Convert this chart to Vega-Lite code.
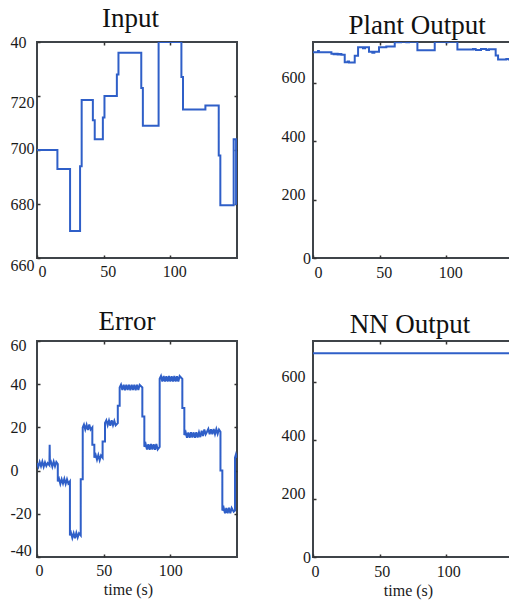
{
  "$schema": "https://vega.github.io/schema/vega-lite/v6.json",
  "padding": {"left": 9, "top": 4, "right": 0, "bottom": 0},
  "background": "white",
  "config": {
    "font": "Liberation Serif",
    "view": {"stroke": "#3f4449", "strokeWidth": 2},
    "axis": {
      "labelFont": "Liberation Serif",
      "labelFontSize": 16,
      "labelColor": "#1a1a1a",
      "labelFlush": false,
      "labelOverlap": false,
      "domain": false,
      "grid": false,
      "tickColor": "#333",
      "tickWidth": 1.5,
      "tickSize": -3,
      "titleFont": "Liberation Serif",
      "titleFontSize": 16,
      "titleFontWeight": "normal",
      "titleColor": "#1a1a1a"
    },
    "title": {"font": "Liberation Serif", "fontSize": 27, "fontWeight": "normal", "color": "#111", "baseline": "alphabetic", "offset": 1, "anchor": "middle"}
  },
  "datasets": {
    "input": [
      {"t": 0, "v": 700}, {"t": 15.3, "v": 693}, {"t": 24.8, "v": 670}, {"t": 32.3, "v": 694}, {"t": 33.5, "v": 718.5},
      {"t": 41.9, "v": 711}, {"t": 43.3, "v": 704}, {"t": 49.4, "v": 712}, {"t": 50.6, "v": 720}, {"t": 59.9, "v": 728},
      {"t": 61.1, "v": 736}, {"t": 78.2, "v": 723}, {"t": 79.4, "v": 709}, {"t": 91.2, "v": 740}, {"t": 108.3, "v": 727},
      {"t": 109.5, "v": 715}, {"t": 126.3, "v": 716.5}, {"t": 136.3, "v": 698}, {"t": 137.5, "v": 679.5}, {"t": 147.5, "v": 704},
      {"t": 149.3, "v": 680}, {"t": 150, "v": 680}
    ],
    "plant": [
      {"t": 0, "v": 705}, {"t": 3.8, "v": 709}, {"t": 4.4, "v": 705}, {"t": 13.8, "v": 700}, {"t": 15.5, "v": 698},
      {"t": 17, "v": 700}, {"t": 18.5, "v": 697}, {"t": 20, "v": 699}, {"t": 21.3, "v": 696}, {"t": 23.8, "v": 671},
      {"t": 26, "v": 673}, {"t": 27, "v": 670}, {"t": 31.3, "v": 693}, {"t": 33.8, "v": 722}, {"t": 37.5, "v": 719},
      {"t": 39, "v": 722}, {"t": 42, "v": 707}, {"t": 44.5, "v": 703}, {"t": 46, "v": 707}, {"t": 49.5, "v": 722},
      {"t": 55, "v": 725}, {"t": 61.3, "v": 739}, {"t": 66, "v": 741}, {"t": 70, "v": 739}, {"t": 72, "v": 741},
      {"t": 78.3, "v": 712}, {"t": 91.3, "v": 741}, {"t": 100, "v": 739}, {"t": 101, "v": 741}, {"t": 108.3, "v": 714},
      {"t": 120, "v": 716}, {"t": 122, "v": 713}, {"t": 126, "v": 716}, {"t": 130, "v": 713}, {"t": 132, "v": 715},
      {"t": 137, "v": 694}, {"t": 138.8, "v": 680}, {"t": 145, "v": 682}, {"t": 147, "v": 680}, {"t": 150, "v": 680}
    ],
    "error": [
      {"t": 0, "v": 3.5}, {"t": 1, "v": 1.8}, {"t": 2, "v": 4}, {"t": 3, "v": 2}, {"t": 4, "v": 4.2}, {"t": 5, "v": 1.8},
      {"t": 6, "v": 3.8}, {"t": 7, "v": 2.2}, {"t": 8, "v": 3.5}, {"t": 9.3, "v": 2.5}, {"t": 9.5, "v": 12}, {"t": 9.7, "v": 3},
      {"t": 10.5, "v": 4}, {"t": 11.5, "v": 1.8}, {"t": 12.5, "v": 4.2}, {"t": 13.5, "v": 2}, {"t": 14.5, "v": 4}, {"t": 15.6, "v": 3},
      {"t": 15.6, "v": -5}, {"t": 16.5, "v": -3.8}, {"t": 17.5, "v": -6.2}, {"t": 18.5, "v": -4}, {"t": 19.5, "v": -6},
      {"t": 20.5, "v": -3.8}, {"t": 21.5, "v": -6.2}, {"t": 22.5, "v": -4}, {"t": 23.5, "v": -6}, {"t": 24.7, "v": -5},
      {"t": 24.7, "v": -30}, {"t": 25.5, "v": -28.8}, {"t": 26.5, "v": -31.2}, {"t": 27.5, "v": -29}, {"t": 28.5, "v": -31.3},
      {"t": 29.5, "v": -28.8}, {"t": 30.5, "v": -31}, {"t": 31.5, "v": -29}, {"t": 32.8, "v": -30}, {"t": 32.8, "v": -4},
      {"t": 34.3, "v": -4}, {"t": 34.3, "v": 20}, {"t": 35.2, "v": 21.3}, {"t": 36.2, "v": 19}, {"t": 37.2, "v": 21.2},
      {"t": 38.2, "v": 18.8}, {"t": 39.2, "v": 21.3}, {"t": 40.2, "v": 19}, {"t": 41.5, "v": 20}, {"t": 41.5, "v": 12},
      {"t": 43, "v": 12}, {"t": 43, "v": 6}, {"t": 44, "v": 7.3}, {"t": 45, "v": 5}, {"t": 46, "v": 7.2}, {"t": 47, "v": 4.8},
      {"t": 48, "v": 7}, {"t": 49.2, "v": 6}, {"t": 49.2, "v": 13.5}, {"t": 51, "v": 13.5}, {"t": 51, "v": 22},
      {"t": 52, "v": 23.3}, {"t": 53, "v": 21}, {"t": 54, "v": 23.2}, {"t": 55, "v": 20.8}, {"t": 56, "v": 23.3},
      {"t": 57, "v": 21}, {"t": 58, "v": 23}, {"t": 59, "v": 21}, {"t": 60.6, "v": 22}, {"t": 60.6, "v": 30},
      {"t": 62, "v": 30}, {"t": 62, "v": 38.5}, {"t": 63, "v": 39.8}, {"t": 64, "v": 37.3}, {"t": 65, "v": 39.8},
      {"t": 66, "v": 37.2}, {"t": 67, "v": 39.7}, {"t": 68, "v": 37.3}, {"t": 69, "v": 39.8}, {"t": 70, "v": 37.2},
      {"t": 71, "v": 39.8}, {"t": 72, "v": 37.3}, {"t": 73, "v": 39.7}, {"t": 74, "v": 37.2}, {"t": 75, "v": 39.8},
      {"t": 76, "v": 37.3}, {"t": 77, "v": 39.7}, {"t": 79, "v": 38.5}, {"t": 79, "v": 25}, {"t": 80.5, "v": 25},
      {"t": 80.5, "v": 11}, {"t": 81.5, "v": 12.3}, {"t": 82.5, "v": 9.8}, {"t": 83.5, "v": 12.2}, {"t": 84.5, "v": 9.7},
      {"t": 85.5, "v": 12.3}, {"t": 86.5, "v": 9.8}, {"t": 87.5, "v": 12.2}, {"t": 88.5, "v": 9.7}, {"t": 89.5, "v": 12.3},
      {"t": 90.5, "v": 9.8}, {"t": 92, "v": 11}, {"t": 92, "v": 42.5}, {"t": 93, "v": 43.8}, {"t": 94, "v": 41.2},
      {"t": 95, "v": 43.8}, {"t": 96, "v": 41.3}, {"t": 97, "v": 43.7}, {"t": 98, "v": 41.2}, {"t": 99, "v": 43.8},
      {"t": 100, "v": 41.3}, {"t": 101, "v": 43.7}, {"t": 102, "v": 41.2}, {"t": 103, "v": 43.8}, {"t": 104, "v": 41.3},
      {"t": 105, "v": 43.7}, {"t": 106, "v": 41.2}, {"t": 107, "v": 43.8}, {"t": 109, "v": 42.5}, {"t": 109, "v": 29},
      {"t": 110.5, "v": 29}, {"t": 110.5, "v": 16.5}, {"t": 111.5, "v": 17.8}, {"t": 112.5, "v": 15.2}, {"t": 113.5, "v": 17.7},
      {"t": 114.5, "v": 15.2}, {"t": 115.5, "v": 17.8}, {"t": 116.5, "v": 15.3}, {"t": 117.5, "v": 17.7}, {"t": 118.5, "v": 15.2},
      {"t": 119.5, "v": 17.8}, {"t": 120.5, "v": 15.3}, {"t": 121.5, "v": 17.7}, {"t": 122.5, "v": 15.5}, {"t": 123.5, "v": 18.5},
      {"t": 124.5, "v": 16}, {"t": 125.5, "v": 19}, {"t": 126.5, "v": 16.8}, {"t": 127.5, "v": 18}, {"t": 128.5, "v": 19.3},
      {"t": 129.5, "v": 16.8}, {"t": 130.5, "v": 19.2}, {"t": 131.5, "v": 16.8}, {"t": 132.5, "v": 19.3}, {"t": 133.5, "v": 16.9},
      {"t": 134.5, "v": 19.2}, {"t": 135.5, "v": 17}, {"t": 136.5, "v": 19}, {"t": 137.6, "v": 18}, {"t": 137.6, "v": 0},
      {"t": 139, "v": 0}, {"t": 139, "v": -18.5}, {"t": 140, "v": -17.2}, {"t": 141, "v": -19.8}, {"t": 142, "v": -17.3},
      {"t": 143, "v": -19.7}, {"t": 144, "v": -17.2}, {"t": 145, "v": -19.8}, {"t": 146, "v": -17.3}, {"t": 147.5, "v": -19},
      {"t": 148.5, "v": -18.5}, {"t": 148.5, "v": 6}, {"t": 149.2, "v": 7.5}, {"t": 150, "v": 6}
    ],
    "nn": [{"t": 0, "v": 698}, {"t": 150, "v": 698}]
  },
  "bounds": "flush",
  "columns": 2,
  "spacing": {"row": 83, "column": 76},
  "concat": [
    {
      "width": 200, "height": 216,
      "title": {"text": "Input", "dx": -6.5},
      "data": {"name": "input"},
      "layer": [
        {
          "mark": {"type": "line", "interpolate": "step-after", "color": "#2f5fc8", "strokeWidth": 2, "clip": true},
          "encoding": {
            "x": {"field": "t", "type": "quantitative", "scale": {"domain": [0, 150], "nice": false, "zero": false},
              "axis": {"orient": "bottom", "values": [0, 50, 100], "title": null, "labelPadding": 8.5,
                "labelOffset": {"condition": {"test": "datum.value == 0", "value": 5}, "value": 4}}},
            "y": {"field": "v", "type": "quantitative", "scale": {"domain": [660, 740], "nice": false, "zero": false},
              "axis": {"orient": "left", "values": [660, 680, 700, 720, 740], "title": null, "labelAlign": "left", "labelPadding": 30,
                "labelExpr": "datum.value == 740 ? '40' : datum.label",
                "labelOffset": {"condition": [{"test": "datum.value == 660", "value": 7}, {"test": "datum.value == 720", "value": 6}, {"test": "datum.value == 700", "value": -2}], "value": 0}}}
          }
        },
        {
          "mark": {"type": "line", "interpolate": "step-after", "opacity": 0},
          "encoding": {
            "x": {"field": "t", "type": "quantitative", "axis": {"orient": "top", "values": [50, 100], "labels": false, "title": null}},
            "y": {"field": "v", "type": "quantitative", "axis": {"orient": "right", "values": [680, 700, 720], "labels": false, "title": null}}
          }
        }
      ],
      "resolve": {"axis": {"x": "independent", "y": "independent"}}
    },
    {
      "width": 200, "height": 216,
      "title": {"text": "Plant Output", "dx": 4},
      "data": {"name": "plant"},
      "layer": [
        {
          "mark": {"type": "line", "interpolate": "step-after", "color": "#2f5fc8", "strokeWidth": 2, "clip": true},
          "encoding": {
            "x": {"field": "t", "type": "quantitative", "scale": {"domain": [0, 150], "nice": false, "zero": false},
              "axis": {"orient": "bottom", "values": [0, 50, 100], "title": null, "labelPadding": 9.5,
                "labelOffset": {"condition": {"test": "datum.value == 0", "value": 5}, "value": 4}}},
            "y": {"field": "v", "type": "quantitative", "scale": {"domain": [0, 740], "nice": false, "zero": false},
              "axis": {"orient": "left", "values": [0, 200, 400, 600], "title": null,
                "labelPadding": {"condition": {"test": "datum.value == 0", "value": 5.6}, "value": 11},
                "labelBaseline": {"condition": {"test": "datum.value == 0", "value": "middle"}, "value": "alphabetic"}}}
          }
        },
        {
          "mark": {"type": "line", "interpolate": "step-after", "opacity": 0},
          "encoding": {
            "x": {"field": "t", "type": "quantitative", "axis": {"orient": "top", "values": [50, 100], "labels": false, "title": null}},
            "y": {"field": "v", "type": "quantitative", "axis": {"orient": "right", "values": [200, 400, 600], "labels": false, "title": null}}
          }
        }
      ],
      "resolve": {"axis": {"x": "independent", "y": "independent"}}
    },
    {
      "width": 200, "height": 216,
      "title": {"text": "Error", "dx": -10},
      "data": {"name": "error"},
      "layer": [
        {
          "mark": {"type": "line", "color": "#2f5fc8", "strokeWidth": 2, "clip": true},
          "encoding": {
            "order": {"value": null},
            "x": {"field": "t", "type": "quantitative", "scale": {"domain": [0, 150], "nice": false, "zero": false},
              "axis": {"orient": "bottom", "values": [0, 50, 100], "title": "time (s)", "titleX": 91, "titlePadding": 3, "labelPadding": 8.5,
                "labelOffset": {"condition": {"test": "datum.value == 0", "value": 2}, "value": 0}}},
            "y": {"field": "v", "type": "quantitative", "scale": {"domain": [-40, 60], "nice": false, "zero": false},
              "axis": {"orient": "left", "values": [-40, -20, 0, 20, 40, 60], "title": null, "labelAlign": "left", "labelPadding": 30,
                "labelExpr": "datum.value < 0 ? '-' + abs(datum.value) : datum.label",
                "labelOffset": {"condition": [{"test": "datum.value == -40", "value": -7}, {"test": "datum.value == 60", "value": 4}], "value": 0}}}
          }
        },
        {
          "mark": {"type": "line", "opacity": 0},
          "encoding": {
            "order": {"value": null},
            "x": {"field": "t", "type": "quantitative", "axis": {"orient": "top", "values": [50, 100], "labels": false, "title": null}},
            "y": {"field": "v", "type": "quantitative", "axis": {"orient": "right", "values": [-20, 0, 20, 40], "labels": false, "title": null}}
          }
        }
      ],
      "resolve": {"axis": {"x": "independent", "y": "independent"}}
    },
    {
      "width": 200, "height": 216,
      "title": {"text": "NN Output", "dx": -3},
      "data": {"name": "nn"},
      "layer": [
        {
          "mark": {"type": "line", "color": "#2f5fc8", "strokeWidth": 2, "clip": true},
          "encoding": {
            "x": {"field": "t", "type": "quantitative", "scale": {"domain": [0, 150], "nice": false, "zero": false},
              "axis": {"orient": "bottom", "values": [0, 50, 100], "title": "time (s)", "titleX": 95, "titlePadding": 3, "labelPadding": 9.5,
                "labelOffset": {"condition": {"test": "datum.value == 0", "value": 2}, "value": 2}}},
            "y": {"field": "v", "type": "quantitative", "scale": {"domain": [0, 740], "nice": false, "zero": false},
              "axis": {"orient": "left", "values": [0, 200, 400, 600], "title": null,
                "labelPadding": {"condition": {"test": "datum.value == 0", "value": 5.6}, "value": 11},
                "labelBaseline": {"condition": {"test": "datum.value == 0", "value": "middle"}, "value": "alphabetic"}}}
          }
        },
        {
          "mark": {"type": "line", "opacity": 0},
          "encoding": {
            "x": {"field": "t", "type": "quantitative", "axis": {"orient": "top", "values": [50, 100], "labels": false, "title": null}},
            "y": {"field": "v", "type": "quantitative", "axis": {"orient": "right", "values": [200, 400, 600], "labels": false, "title": null}}
          }
        }
      ],
      "resolve": {"axis": {"x": "independent", "y": "independent"}}
    }
  ]
}
